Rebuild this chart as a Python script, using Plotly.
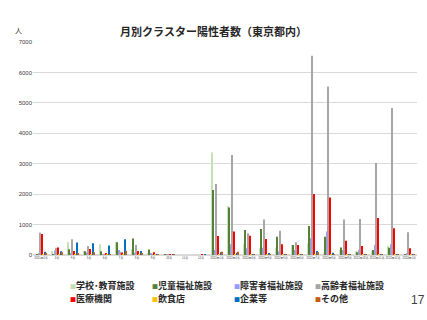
import plotly.graph_objects as go

months = ["2021年2月", "3月", "4月", "5月", "6月", "7月", "8月", "9月", "10月", "11月", "12月",
          "2022年1月", "2022年2月", "2022年3月", "2022年4月", "2022年5月", "2022年6月",
          "2022年7月", "2022年8月", "2022年9月", "2022年10月", "2022年11月", "2022年12月", "2023年1月"]

school = [30, 130, 430, 135, 350, 430, 190, 40, 10, 0, 5, 3370, 1610, 360, 220, 250, 330, 385, 40, 165, 130, 130, 296, 20]
child = [20, 30, 190, 125, 120, 420, 545, 180, 5, 0, 0, 2140, 1560, 820, 855, 600, 330, 955, 600, 250, 90, 165, 240, 10]
disabled = [40, 150, 50, 80, 20, 165, 70, 40, 20, 0, 0, 165, 350, 220, 240, 120, 165, 548, 770, 165, 165, 330, 350, 60]
elderly = [735, 240, 515, 296, 30, 110, 330, 30, 10, 0, 0, 2330, 3290, 713, 1170, 800, 420, 6550, 5540, 1170, 1185, 3020, 4830, 750]
medical = [690, 250, 130, 195, 40, 80, 135, 90, 30, 0, 5, 625, 770, 636, 525, 355, 330, 2007, 1890, 470, 296, 1217, 876, 220]
restaurant = [10, 30, 20, 10, 20, 10, 10, 5, 0, 0, 0, 10, 10, 5, 5, 5, 5, 10, 5, 5, 5, 5, 5, 5]
company = [110, 120, 410, 390, 310, 520, 135, 30, 5, 0, 15, 90, 75, 10, 40, 20, 20, 130, 75, 10, 10, 10, 10, 5]
other = [70, 90, 60, 90, 30, 140, 60, 20, 5, 0, 0, 110, 110, 10, 10, 10, 20, 90, 10, 10, 20, 10, 10, 5]

series_names = ["学校･教育施設", "児童福祉施設", "障害者福祉施設", "高齢者福祉施設",
                "医療機関", "飲食店", "企業等", "その他"]
series_values = [school, child, disabled, elderly, medical, restaurant, company, other]
series_colors = ["#c5e0b4", "#548235", "#9999ff", "#a6a6a6",
                 "#ff0000", "#ffc000", "#0070c0", "#c55a11"]

FONT = "Noto Sans CJK JP"

fig = go.Figure()
for name, vals, col in zip(series_names, series_values, series_colors):
    fig.add_trace(go.Bar(x=months, y=vals, name=name, marker=dict(color=col, line=dict(width=0)),
                         showlegend=False))

# legend built as annotations (2 rows x 4 columns)
leg_x = [0.091, 0.305, 0.518, 0.729]
leg_y = [-0.141, -0.202]
for i, (name, col) in enumerate(zip(series_names, series_colors)):
    r, c = divmod(i, 4)
    fig.add_annotation(
        x=leg_x[c], y=leg_y[r], xref="paper", yref="paper", xanchor="left", yanchor="middle",
        text=f'<span style="color:{col};font-size:6px">■</span><b>{name}</b>',
        showarrow=False, font=dict(family=FONT, size=9, color="#262626"))

fig.add_annotation(x=-0.039, y=1.056, xref="paper", yref="paper", text="人", showarrow=False,
                   xanchor="center", yanchor="middle", font=dict(family=FONT, size=7, color="#404040"))
fig.add_annotation(x=1.003, y=-0.211, xref="paper", yref="paper", text="17", showarrow=False,
                   xanchor="center", yanchor="middle", font=dict(family="Liberation Sans", size=12, color="#404040"))

fig.update_layout(
    width=427, height=320,
    margin=dict(l=33, r=10, t=42, b=65),
    paper_bgcolor="white", plot_bgcolor="white",
    barmode="group", bargap=0.25, bargroupgap=0,
    title=dict(text="<b>月別クラスター陽性者数（東京都内）</b>", x=0.5, xanchor="center",
               y=0.9, yanchor="middle", yref="container",
               font=dict(family=FONT, size=11, color="#262626")),
    font=dict(family=FONT, color="#404040"),
)
fig.update_yaxes(range=[0, 7000], dtick=1000, showgrid=True, gridcolor="#d9d9d9", gridwidth=1,
                 zeroline=True, zerolinecolor="#d9d9d9", showline=False,
                 tickfont=dict(family="Liberation Sans", size=6, color="#404040"), ticks="")
fig.update_xaxes(showgrid=False, showline=True, linecolor="#d9d9d9", ticks="",
                 tickangle=0, tickfont=dict(family=FONT, size=2.8, color="#404040"))

fig.write_html("out.html")
